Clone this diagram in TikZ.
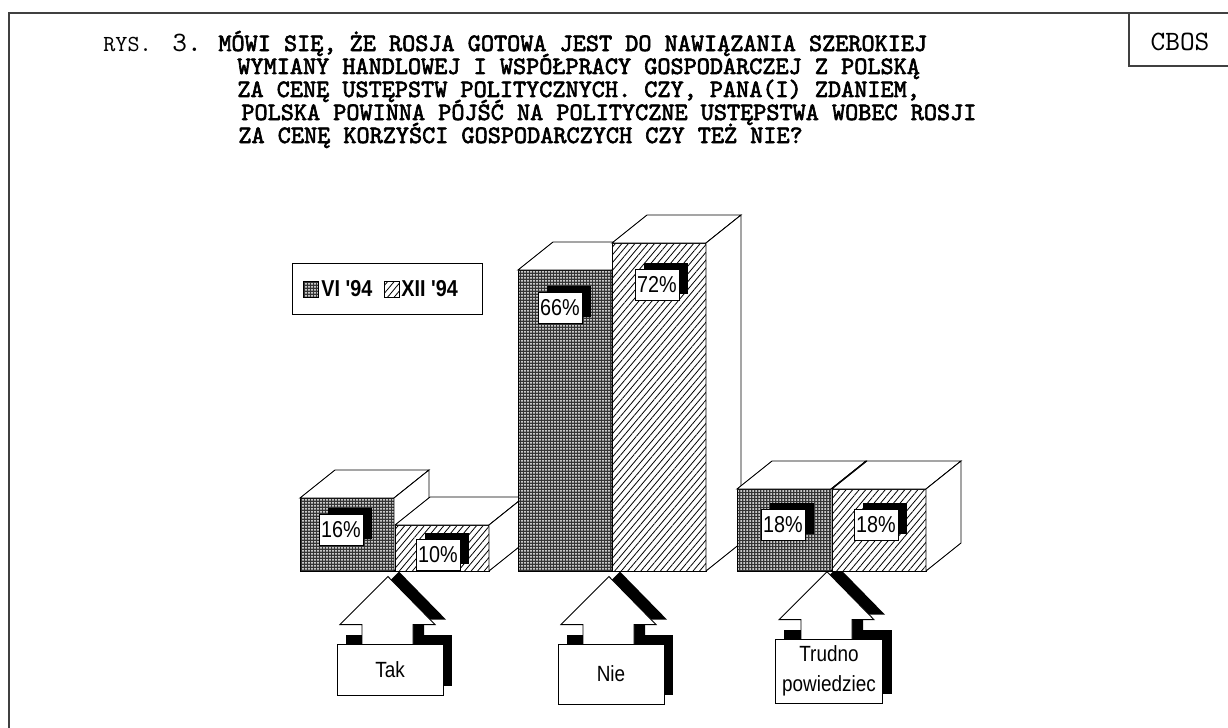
\documentclass[tikz,border=0pt]{standalone}
\usepackage{fontspec}
\setmainfont{Liberation Sans}
\newfontfamily\courier{lmmono10-regular.otf}
\newfontfamily\courierbf[FakeBold=2.5]{lmmono10-regular.otf}
\newfontfamily\narrow[FakeStretch=0.86]{Liberation Sans}
\usetikzlibrary{patterns.meta,shadows}
\pgfdeclarelayer{back}
\pgfdeclarelayer{mid}
\pgfsetlayers{back,mid,main}

\begin{document}
\begin{tikzpicture}[x=0.5pt,y=-0.5pt,
frame/.style={draw=black!75,line width=0.75pt},
bar/.style={draw=black,line width=0.45pt},
face/.style={bar,fill=white},
dark/.style={bar,preaction={fill=black!80},pattern={Dots[distance=1.5pt,radius=0.5pt]},pattern color=white},
light/.style={bar,preaction={fill=white},pattern={Lines[angle=50,distance=2.5pt,line width=0.4pt]},pattern color=black},
pct/.style={draw=black,line width=0.4pt,fill=white,inner sep=0pt,minimum width=22pt,minimum height=15.5pt,font=\narrow\fontsize{11.5}{12}\selectfont,drop shadow={shadow xshift=4.5pt,shadow yshift=3.5pt,fill=black,opacity=1}},
answer/.style={draw=black,line width=0.4pt,fill=white,minimum width=53pt,align=center,font=\narrow\fontsize{11}{15}\selectfont},
title/.style={anchor=base west,inner sep=0pt,font=\courierbf\fontsize{12.5}{12}\selectfont},
legtext/.style={anchor=west,inner sep=0pt,font=\narrow\bfseries\fontsize{11.5}{12}\selectfont}]
\useasboundingbox (0,0) rectangle (1228,728);

\draw[frame] (9,728) -- (9,13) -- (1228,13);
\node[font=\courier\fontsize{14}{14}\selectfont] (cbos) at (1180,42) {CBOS};
\draw[frame] (1129,13) -- (1129,66) -- (1228,66);

\node[anchor=base west,inner sep=0pt,font=\courier\fontsize{11.5}{12}\selectfont] (rys) at (103,51) {RYS.};
\node[anchor=base west,inner sep=0pt,font=\courier\fontsize{14}{12}\selectfont] (nr) at (172,51) {3.};
\node[title] (t1) at (218,51) {MÓWI SIĘ, ŻE ROSJA GOTOWA JEST DO NAWIĄZANIA SZEROKIEJ};
\node[title] (t2) at (237,74) {WYMIANY HANDLOWEJ I WSPÓŁPRACY GOSPODARCZEJ Z POLSKĄ};
\node[title] (t3) at (237,97) {ZA CENĘ USTĘPSTW POLITYCZNYCH. CZY, PANA(I) ZDANIEM,};
\node[title] (t4) at (241,120) {POLSKA POWINNA PÓJŚĆ NA POLITYCZNE USTĘPSTWA WOBEC ROSJI};
\node[title] (t5) at (238,143) {ZA CENĘ KORZYŚCI GOSPODARCZYCH CZY TEŻ NIE?};

\node[draw=black,line width=0.45pt,minimum width=95pt,minimum height=25.5pt,inner sep=0pt] (legend) at (387,288.5) {};
\draw[dark] (303,281) rectangle (318,297);
\node[legtext] (vi) at (321,289) {VI '94};
\draw[light] (384,281) rectangle (399,297);
\node[legtext] (xii) at (401,289) {XII '94};

\foreach \l/\t/\s in {300/498/dark,395/525/light,518/270/dark,612/243/light,737/489/dark,832/489/light}{
  \draw[\s] (\l,\t) rectangle (\l+94,571);
  \draw[face] (\l,\t) -- ++(35,-28) -- ++(94,0) -- ++(-35,28) -- cycle;
  \draw[face] (\l+94,\t) -- ++(35,-28) -- (\l+129,543) -- (\l+94,571) -- cycle;
}

\node[pct] (p1) at (341,530) {16\%};
\node[pct] (p2) at (438,555) {10\%};
\node[pct] (p3) at (560,308) {66\%};
\node[pct] (p4) at (657,285) {72\%};
\node[pct] (p5) at (783,525) {18\%};
\node[pct] (p6) at (876,525) {18\%};

\node[answer,minimum height=25.5pt] (tak) at (390,669.5) {Tak};
\node[answer,minimum height=30pt] (nie) at (611,674) {Nie};
\node[answer,minimum height=27pt] (trudno) at (829,671) {Trudno\\powiedziec};

\begin{pgfonlayer}{back}
\foreach \b in {tak,nie,trudno}{
  \fill[black] ([shift={(9,-9)}]\b.south west) rectangle ([shift={(9,-9)}]\b.north east);
  \fill[black] ([shift={(11,-5)}]\b.north) ++(-2,-67) -- ++(47,48) -- ++(-22,0) -- ++(0,25) -- ++(-51,0) -- ++(0,-25) -- ++(-22,0) -- cycle;
}
\end{pgfonlayer}
\begin{pgfonlayer}{mid}
\foreach \b in {tak,nie,trudno}
  \draw[face] (\b.north) ++(-2,-67) -- ++(47,48) -- ++(-22,0) -- ++(0,25) -- ++(-51,0) -- ++(0,-25) -- ++(-22,0) -- cycle;
\end{pgfonlayer}
\end{tikzpicture}
\end{document}
